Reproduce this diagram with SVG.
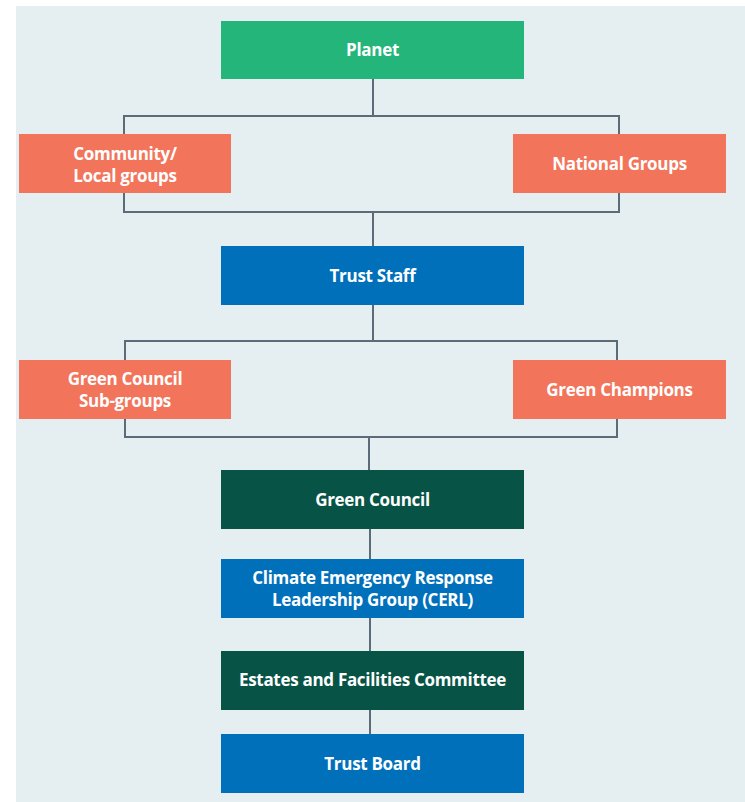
<svg xmlns="http://www.w3.org/2000/svg" width="745" height="802" viewBox="0 0 745 802">
<style>
text{font-family:"Open Sans","Liberation Sans",sans-serif;font-weight:bold;font-size:17px;fill:#ffffff;text-anchor:middle;letter-spacing:-0.3px}
.ln{stroke:#5b6b78;stroke-width:2;fill:none}
.green{fill:#23b57a}.orange{fill:#f2745a}.blue{fill:#0070bb}.dark{fill:#075446}
</style>
<rect x="0" y="0" width="745" height="802" fill="#ffffff"/>
<rect x="16" y="6" width="729" height="796" fill="#e5eff1"/>
<g id="connectors">
<path class="ln" d="M373 79V116M124 134V116H619V134M124 193V212H619V193M373 212V246"/>
<path class="ln" d="M373 305V341M125 360V341H617V360M125 419V437H617V419M369 437V470"/>
<path class="ln" d="M370 529V559M370 618V651M370 710V734"/>
</g>
<g id="planet"><rect class="green" x="221" y="21" width="303" height="58"/><text x="372.5" y="56">Planet</text></g>
<g id="community"><rect class="orange" x="19" y="134" width="212" height="59"/><text x="125" y="160">Community/</text><text x="125" y="182">Local groups</text></g>
<g id="national"><rect class="orange" x="513" y="134" width="213" height="59"/><text x="619.5" y="170">National Groups</text></g>
<g id="trust-staff"><rect class="blue" x="221" y="246" width="303" height="59"/><text x="372.5" y="282">Trust Staff</text></g>
<g id="gc-subgroups"><rect class="orange" x="19" y="360" width="212" height="59"/><text x="125" y="385">Green Council</text><text x="125" y="407">Sub-groups</text></g>
<g id="green-champions"><rect class="orange" x="513" y="360" width="213" height="59"/><text x="619.5" y="396">Green Champions</text></g>
<g id="green-council"><rect class="dark" x="221" y="470" width="303" height="59"/><text x="372.5" y="506">Green Council</text></g>
<g id="cerl"><rect class="blue" x="221" y="559" width="303" height="59"/><text x="372.5" y="584">Climate Emergency Response</text><text x="372.5" y="606">Leadership Group (CERL)</text></g>
<g id="estates"><rect class="dark" x="221" y="651" width="303" height="59"/><text x="372.5" y="686">Estates and Facilities Committee</text></g>
<g id="trust-board"><rect class="blue" x="221" y="734" width="303" height="59"/><text x="372.5" y="770">Trust Board</text></g>
</svg>
